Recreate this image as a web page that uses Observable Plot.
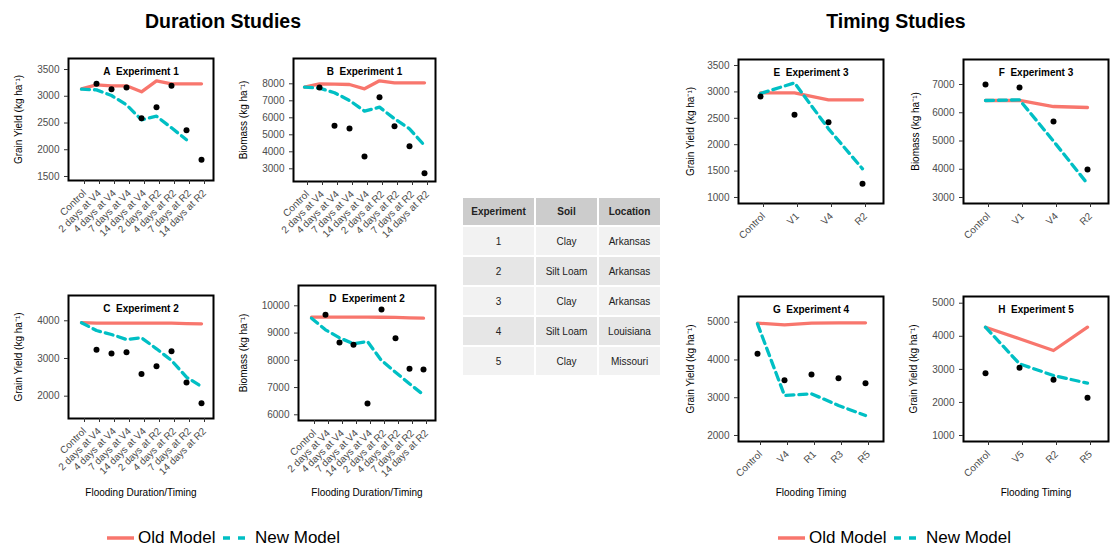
<!DOCTYPE html>
<html>
<head>
<meta charset="utf-8">
<script src="https://cdn.jsdelivr.net/npm/d3@7"></script>
<script src="https://cdn.jsdelivr.net/npm/@observablehq/plot@0.6"></script>
<style>
  body { margin: 0; background: white; }
  #root { position: relative; width: 1113px; height: 547px; background: white; overflow: hidden;
          font-family: "Liberation Sans", Arial, sans-serif; }
  .ttl { position: absolute; font-weight: bold; font-size: 19.5px; text-align: center; width: 240px; line-height: 20px; color: #000; }
  table.info { position: absolute; left: 461px; top: 196px; border-collapse: collapse; font-size: 10px; color: #222; }
  table.info td, table.info th { border: 2px solid white; text-align: center; padding: 0; }
  table.info th { background: #cccccc; height: 27px; font-weight: bold; }
  table.info td { height: 28px; }
  table.info tr.odd td { background: #f2f2f2; }
  table.info tr.even td { background: #e6e6e6; }
</style>
</head>
<body>
<div id="root"></div>
<script>
// ---------- categories ----------
const durationCats = ["Control", "2 days at V4", "4 days at V4", "7 days at V4", "14 days at V4",
                      "2 days at R2", "4 days at R2", "7 days at R2", "14 days at R2"];
const timingCatsE = ["Control", "V1", "V4", "R2"];
const timingCatsF = ["Control", "V1", "V4", "R2"];
const timingCatsG = ["Control", "V4", "R1", "R3", "R5"];
const timingCatsH = ["Control", "V5", "R2", "R5"];

// ---------- series values (kg/ha) ----------
// A: grain yield, experiment 1
const obsA = [null, 3233, 3132, 3164, 2590, 2796, 3195, 2366, 1812];
const oldA = [3140, 3213, 3195, 3195, 3083, 3288, 3233, 3233, 3233];
const newA = [3132, 3120, 3014, 2840, 2560, 2627, 2410, 2186, null];
// B: biomass, experiment 1
const obsB = [null, 7782, 5529, 5371, 3724, 7212, 5506, 4329, 2741];
const oldB = [7800, 8000, 7980, 7960, 7706, 8176, 8059, 8059, 8059];
const newB = [7800, 7745, 7471, 7020, 6392, 6627, 5941, 5353, 4372];
// C: grain yield, experiment 2
const obsC = [null, 3233, 3132, 3164, 2590, 2796, 3195, 2366, 1812];
const oldC = [3950, 3937, 3937, 3937, 3937, 3937, 3937, 3925, 3920];
const newC = [3950, 3743, 3637, 3504, 3548, 3257, 2947, 2504, 2257];
// D: biomass, experiment 2
const obsD = [null, 9670, 8653, 8569, 6415, 9864, 8812, 7688, 7662];
const oldD = [9583, 9583, 9583, 9583, 9583, 9580, 9575, 9560, 9547];
const newD = [9547, 9119, 8826, 8606, 8690, 7993, 7564, 7138, 6734];
// E: grain yield, experiment 3
const obsE = [2913, 2566, 2427, 1259];
const oldE = [2983, 2983, 2850, 2850];
const newE = [2970, 3172, 2301, 1543];
// F: biomass, experiment 3
const obsF = [7000, 6894, 5690, 3991];
const oldF = [6434, 6434, 6221, 6186];
const newF = [6434, 6457, 4994, 3485];
// G: grain yield, experiment 4
const obsG = [4163, 3465, 3615, 3517, 3385];
const oldG = [4974, 4930, 4974, 4983, 4983];
const newG = [4956, 3059, 3104, 2795, 2530];
// H: grain yield, experiment 5
const obsH = [2884, 3047, 2684, 2140];
const oldH = [4275, 3924, 3570, 4275];
const newH = [4275, 3168, 2814, 2582];

// ---------- tick labels ----------
const ticksA = [1500, 2000, 2500, 3000, 3500];
const ticksB = [3000, 4000, 5000, 6000, 7000, 8000];
const ticksC = [2000, 3000, 4000];
const ticksD = [6000, 7000, 8000, 9000, 10000];
const ticksE = [1000, 1500, 2000, 2500, 3000, 3500];
const ticksF = [3000, 4000, 5000, 6000, 7000];
const ticksG = [2000, 3000, 4000, 5000];
const ticksH = [1000, 2000, 3000, 4000, 5000];

// ---------- texts ----------
const yieldLabel = "Grain Yield (kg ha\u207B\u00B9)";
const biomassLabel = "Biomass (kg ha\u207B\u00B9)";
const durationXLabel = "Flooding Duration/Timing";
const timingXLabel = "Flooding Timing";
const tableHeader = ["Experiment", "Soil", "Location"];
const tableExperiment = ["1", "2", "3", "4", "5"];
const tableSoil = ["Clay", "Silt Loam", "Clay", "Silt Loam", "Clay"];
const tableLocation = ["Arkansas", "Arkansas", "Arkansas", "Louisiana", "Missouri"];
const legendLabels = ["Old Model", "New Model"];

const OLD = "#F8766D", NEW = "#00BFC4";
const root = document.getElementById("root");

function panel(p) {
  const rows = p.cats.map((c, i) => ({cat: c, obs: p.obs[i], old: p.old[i], nw: p.nw[i]}));
  const [fl, ft, fr, fb] = p.frame;
  const ml = 70, mt = 10, mr = 6, mb = 88;
  const svg = Plot.plot({
    width: fr - fl + ml + mr, height: fb - ft + mt + mb,
    marginLeft: ml, marginTop: mt, marginRight: mr, marginBottom: mb,
    style: {background: "none", overflow: "visible", fontFamily: "Liberation Sans, Arial, sans-serif"},
    x: {type: "point", domain: p.cats, padding: 0.6},
    y: {domain: p.ydomain},
    marks: [
      Plot.line(rows, {x: "cat", y: "old", stroke: OLD, strokeWidth: 3.3}),
      Plot.line(rows, {x: "cat", y: "nw", stroke: NEW, strokeWidth: 3.3, strokeDasharray: "8,5"}),
      Plot.dot(rows, {x: "cat", y: "obs", r: 3, fill: "black", stroke: "none"}),
      Plot.frame({stroke: "black", strokeWidth: 2}),
      Plot.axisY({ticks: p.yticks, tickFormat: d => String(d), tickSize: 4, tickPadding: 5, fontSize: 10, label: null, fill: "#4d4d4d", stroke: "#333"}),
      Plot.axisX({tickSize: 4, tickPadding: 7, dx: 3, tickRotate: -45, fontSize: 10, label: null, fill: "#4d4d4d", stroke: "#333"}),
      Plot.text([p.title], {text: d => d, frameAnchor: "top", lineAnchor: "middle", dy: 13, fontWeight: "bold", fontSize: 10, fill: "black"}),
      Plot.text([p.ylabel], {text: d => d, frameAnchor: "left", textAnchor: "middle", lineAnchor: "middle", rotate: -90, dx: -p.ytd, fontSize: 10, fill: "black"}),
      p.xlabel ? Plot.text([p.xlabel], {text: d => d, frameAnchor: "bottom", textAnchor: "middle", lineAnchor: "middle", dy: p.xtd, fontSize: 10, fill: "black"}) : null
    ]
  });
  svg.style.position = "absolute";
  svg.style.left = (fl - ml) + "px";
  svg.style.top = (ft - mt) + "px";
  root.append(svg);
}

panel({cats: durationCats, obs: obsA, old: oldA, nw: newA, yticks: ticksA, ydomain: [1425, 3706],
       title: "A\u00a0\u00a0Experiment 1", ylabel: yieldLabel, ytd: 50, frame: [68, 58, 213, 180]});
panel({cats: durationCats, obs: obsB, old: oldB, nw: newB, yticks: ticksB, ydomain: [2253, 9488],
       title: "B\u00a0\u00a0Experiment 1", ylabel: biomassLabel, ytd: 50, frame: [293, 58, 435, 181]});
panel({cats: durationCats, obs: obsC, old: oldC, nw: newC, yticks: ticksC, ydomain: [1408, 4671],
       title: "C\u00a0\u00a0Experiment 2", ylabel: yieldLabel, ytd: 50, frame: [68, 295, 213, 418],
       xlabel: durationXLabel, xtd: 74});
panel({cats: durationCats, obs: obsD, old: oldD, nw: newD, yticks: ticksD, ydomain: [5791, 10745],
       title: "D\u00a0\u00a0Experiment 2", ylabel: biomassLabel, ytd: 55, frame: [298, 285, 435, 420],
       xlabel: durationXLabel, xtd: 72});
panel({cats: timingCatsE, obs: obsE, old: oldE, nw: newE, yticks: ticksE, ydomain: [886, 3614],
       title: "E\u00a0\u00a0Experiment 3", ylabel: yieldLabel, ytd: 48, frame: [738, 59, 883, 203]});
panel({cats: timingCatsF, obs: obsF, old: oldF, nw: newF, yticks: ticksF, ydomain: [2788, 7885],
       title: "F\u00a0\u00a0Experiment 3", ylabel: biomassLabel, ytd: 48, frame: [963, 59, 1108, 203]});
panel({cats: timingCatsG, obs: obsG, old: oldG, nw: newG, yticks: ticksG, ydomain: [1841, 5680],
       title: "G\u00a0\u00a0Experiment 4", ylabel: yieldLabel, ytd: 48, frame: [738, 296, 883, 441],
       xlabel: timingXLabel, xtd: 51});
panel({cats: timingCatsH, obs: obsH, old: oldH, nw: newH, yticks: ticksH, ydomain: [819, 5203],
       title: "H\u00a0\u00a0Experiment 5", ylabel: yieldLabel, ytd: 50, frame: [963, 296, 1108, 441],
       xlabel: timingXLabel, xtd: 51});

// section titles
function title(text, cx) {
  const d = document.createElement("div");
  d.className = "ttl";
  d.style.left = (cx - 120) + "px";
  d.style.top = "11px";
  d.textContent = text;
  root.append(d);
}
title("Duration Studies", 223);
title("Timing Studies", 896);

// table
const tbl = document.createElement("table");
tbl.className = "info";
const widths = [71, 61, 61];
let html = "<tr>" + tableHeader.map((h, i) => `<th style="width:${widths[i]}px">${h}</th>`).join("") + "</tr>";
tableExperiment.forEach((e, i) => {
  html += `<tr class="${i % 2 ? "even" : "odd"}"><td>${e}</td><td>${tableSoil[i]}</td><td>${tableLocation[i]}</td></tr>`;
});
tbl.innerHTML = html;
root.append(tbl);

// legends
function legend(x0) {
  const ns = "http://www.w3.org/2000/svg";
  const svg = document.createElementNS(ns, "svg");
  svg.setAttribute("width", 260); svg.setAttribute("height", 25);
  svg.style.position = "absolute"; svg.style.left = x0 + "px"; svg.style.top = "522px";
  svg.innerHTML = `
    <line x1="0" x2="27" y1="16" y2="16" stroke="${OLD}" stroke-width="3.5"/>
    <text x="31" y="21" font-size="17" font-family="Liberation Sans, Arial, sans-serif">${legendLabels[0]}</text>
    <line x1="116" x2="140" y1="16" y2="16" stroke="${NEW}" stroke-width="3.5" stroke-dasharray="7,8"/>
    <text x="148" y="21" font-size="17" font-family="Liberation Sans, Arial, sans-serif">${legendLabels[1]}</text>`;
  root.append(svg);
}
legend(107);
legend(778);
</script>
</body>
</html>
